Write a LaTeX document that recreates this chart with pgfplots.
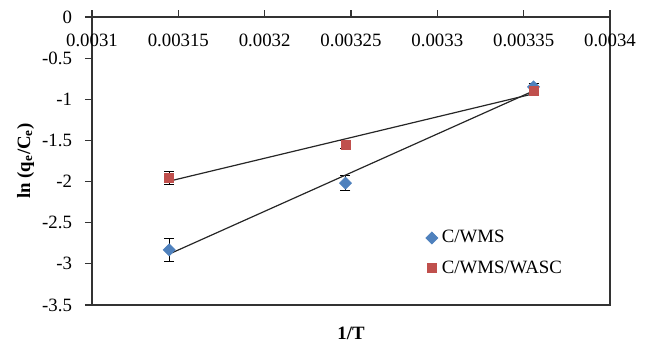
\documentclass[border=0pt]{standalone}
\usepackage{fontspec}
\setmainfont{Liberation Serif}
\usepackage{pgfplots}
\pgfplotsset{compat=1.18}
\definecolor{wblue}{HTML}{4F81BD}
\definecolor{wred}{HTML}{C0504D}
\begin{document}
\begin{tikzpicture}
\begin{axis}[
  scale only axis, width=259pt, height=144pt,
  xmin=0.0031, xmax=0.0034, ymin=-3.5, ymax=0,
  xtick={0.0031,0.00315,0.0032,0.00325,0.0033,0.00335,0.0034},
  xticklabels={0.0031,0.00315,0.0032,0.00325,0.0033,0.00335,0.0034},
  ytick={-3.5,-3,-2.5,-2,-1.5,-1,-0.5,0},
  yticklabels={-3.5,-3,-2.5,-2,-1.5,-1,-0.5,0},
  scaled x ticks=false, scaled y ticks=false,
  xtick pos=upper, ytick pos=left, tick align=outside,
  xticklabel pos=upper,
  x tick label style={anchor=north, yshift=-8.5pt},
  y tick label style={xshift=-3pt},
  major tick length=3.5pt,
  axis line style={line width=0.6pt, black!80},
  tick style={black!80, line width=0.6pt},
  font=\fontsize{9.4}{11}\selectfont,
  xlabel={\textbf{1/T}},
  ylabel={\textbf{ln (q\textsubscript{e}/C\textsubscript{e})}},
  xlabel style={at={(rel axis cs:0.5,0)}, anchor=north, yshift=-7.5pt},
  ylabel style={at={(rel axis cs:-0.128,0.5)}, anchor=center},
  legend style={draw=none, fill=none, at={(rel axis cs:0.64,0.282)}, anchor=north west,
    font=\fontsize{9.4}{11}\selectfont, row sep=3.5pt, inner sep=1pt},
  legend cell align=left,
  clip=false,
]
\addplot[only marks, mark=square*, mark size=2.1pt, mark options={rotate=45, fill=wblue, draw=wblue},
  error bars/.cd, y dir=both, y explicit,
  error bar style={black, line width=0.5pt},
  error mark options={rotate=90, mark size=2.5pt, black, line width=0.5pt}]
  coordinates {
  (0.0031447,-2.83) +- (0,0.14)
  (0.0032468,-2.02) +- (0,0.09)
  (0.0033557,-0.85) +- (0,0.04)
  };
\addlegendentry{C/WMS}
\addplot[only marks, mark=square*, mark size=2.25pt, mark options={fill=wred, draw=wred},
  error bars/.cd, y dir=both, y explicit,
  error bar style={black, line width=0.5pt},
  error mark options={rotate=90, mark size=2.5pt, black, line width=0.5pt}]
  coordinates {
  (0.0031447,-1.96) +- (0,0.08)
  (0.0032468,-1.55) +- (0,0.05)
  (0.0033557,-0.90) +- (0,0.03)
  };
\addlegendentry{C/WMS/WASC}
\addplot[forget plot, black!85, line width=0.6pt] coordinates {(0.0031447,-2.881) (0.0033557,-0.898)};
\addplot[forget plot, black!85, line width=0.6pt] coordinates {(0.0031447,-1.995) (0.0033557,-0.933)};
\end{axis}
\pgfresetboundingbox
\path[use as bounding box] ([xshift=-46pt,yshift=-19pt]current axis.south west) rectangle ([xshift=19.5pt,yshift=8.5pt]current axis.north east);
\end{tikzpicture}
\end{document}
